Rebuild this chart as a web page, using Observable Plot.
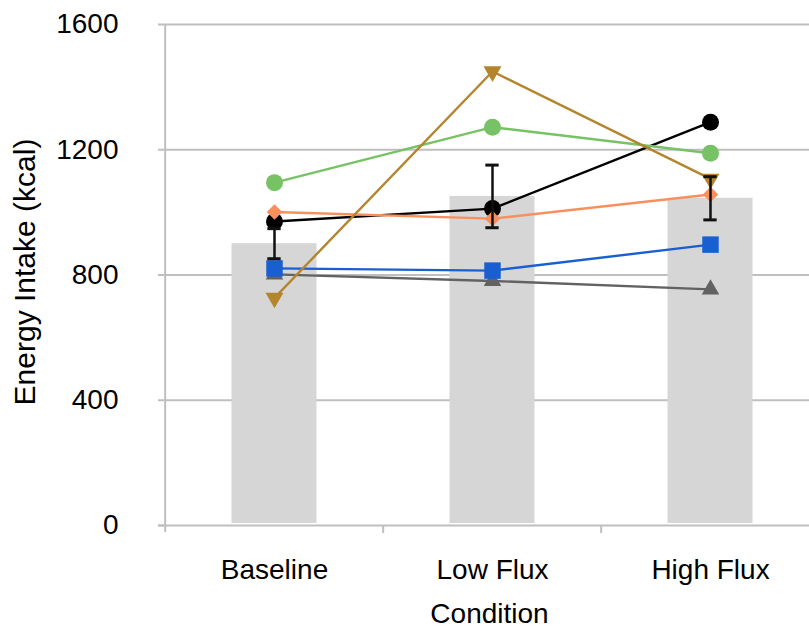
<!DOCTYPE html>
<html><head><meta charset="utf-8">
<script src="https://cdn.jsdelivr.net/npm/d3@7"></script>
<script src="https://cdn.jsdelivr.net/npm/@observablehq/plot@0.6"></script>
<style>html,body{margin:0;padding:0;overflow:hidden;background:#fff}</style>
</head><body><div id="chart"></div>
<script>
// ---- data ----
const conditions = ["Baseline", "Low Flux", "High Flux"];
const meanIntake = [900, 1051, 1045];
const sdIntake = [48, 100, 69];
const seriesGray = [802, 781, 754];
const seriesBlue = [821, 814, 897];
const seriesBlack = [971, 1012, 1288];
const seriesOrange = [1001, 980, 1057];
const seriesGreen = [1095, 1272, 1189];
const seriesBrown = [727, 1450, 1107];
const yTicks = [0, 400, 800, 1200, 1600];
const xLabel = "Condition";
const yLabel = "Energy Intake (kcal)";

// ---- styles ----
const triangleDown = {draw(context, size) {
  const y = -Math.sqrt(size / (Math.sqrt(3) * 3));
  context.moveTo(0, -y * 2);
  context.lineTo(-Math.sqrt(3) * y, y);
  context.lineTo(Math.sqrt(3) * y, y);
  context.closePath();
}};
const seriesList = [
  {values: seriesGray, color: "#626262", symbol: "triangle", r: 6.5},
  {values: seriesBlue, color: "#1a5fd2", symbol: "square", r: 9.3},
  {values: seriesBlack, color: "#000000", symbol: "circle", r: 8.5},
  {values: seriesOrange, color: "#fa8f5e", symbol: "diamond2", r: 7},
  {values: seriesGreen, color: "#76c264", symbol: "circle", r: 8.5},
  {values: seriesBrown, color: "#b3862e", symbol: triangleDown, r: 6.7}
];

const W = 820, H = 631, mL = 164, mR = 0, mT = 24, mB = 106;
const bw = (W - mL - mR) / conditions.length;
const axisColor = "#bfbfbf";

const bars = conditions.map((c, i) => ({condition: c, mean: meanIntake[i], sd: sdIntake[i]}));

const marks = [
  Plot.gridY(yTicks.filter(d => d > 0), {stroke: axisColor, strokeOpacity: 1, strokeWidth: 2}),
  Plot.barY(bars, {x: "condition", y: "mean", fill: "#d6d6d6", insetLeft: 66.5, insetRight: 66.5, insetBottom: 2}),
  Plot.ruleY([0], {stroke: axisColor, strokeWidth: 2, insetLeft: -6}),
  Plot.ruleX(conditions.slice(0, 1), {x: d => d, dx: -bw / 2, stroke: axisColor, strokeWidth: 2, insetBottom: -7}),
  Plot.ruleX(conditions.slice(1), {x: d => d, dx: -bw / 2, y1: 0, stroke: axisColor, strokeWidth: 2, insetBottom: -8}),
  Plot.axisY({ticks: yTicks, tickFormat: d3.format("d"), tickSize: 6, tickPadding: 40, stroke: axisColor, strokeWidth: 2, label: null, fill: "black"}),
  Plot.axisX({tickSize: 0, tickPadding: 34, label: null, fill: "black"})
];
for (const s of seriesList) {
  const pts = conditions.map((c, i) => ({condition: c, value: s.values[i]}));
  marks.push(Plot.line(pts, {x: "condition", y: "value", stroke: s.color, strokeWidth: 2.4}));
  marks.push(Plot.dot(pts, {x: "condition", y: "value", fill: s.color, symbol: s.symbol, r: s.r, stroke: "none"}));
}
marks.push(
  Plot.ruleX(bars, {x: "condition", y1: d => d.mean - d.sd, y2: d => d.mean + d.sd, stroke: "#111", strokeWidth: 2.5}),
  Plot.tickY(bars, {x: "condition", y: d => d.mean + d.sd, stroke: "#111", strokeWidth: 3, insetLeft: bw / 2 - 7, insetRight: bw / 2 - 7}),
  Plot.tickY(bars, {x: "condition", y: d => d.mean - d.sd, stroke: "#111", strokeWidth: 3, insetLeft: bw / 2 - 7, insetRight: bw / 2 - 7}),
  Plot.text([yLabel], {frameAnchor: "left", dx: -139, dy: -3, rotate: -90, textAnchor: "middle", lineAnchor: "middle", fill: "black", fontSize: 30}),
  Plot.text([xLabel], {frameAnchor: "bottom", dx: -3, dy: 89, lineAnchor: "middle", fill: "black", fontSize: 28})
);

const chart = Plot.plot({
  width: W, height: H,
  marginLeft: mL, marginRight: mR, marginTop: mT, marginBottom: mB,
  style: {fontFamily: "'Liberation Sans', Arial, sans-serif", fontSize: "28px", background: "#fff", overflow: "visible", maxWidth: "none"},
  x: {type: "band", domain: conditions, padding: 0, axis: null},
  y: {domain: [0, 1600], axis: null},
  marks
});
document.getElementById("chart").appendChild(chart);
</script>
</body></html>
